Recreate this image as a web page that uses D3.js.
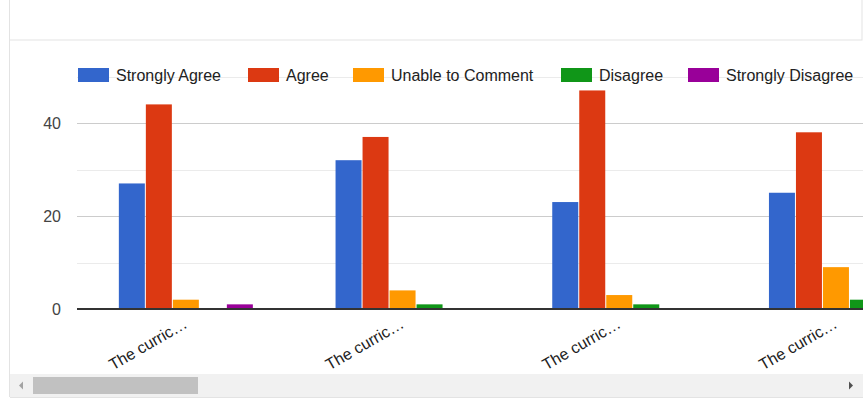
<!DOCTYPE html>
<html>
<head>
<meta charset="utf-8">
<script src="https://cdnjs.cloudflare.com/ajax/libs/d3/7.8.5/d3.min.js"></script>
<style>
  body { margin: 0; background: #fff; }
  svg { display: block; font-family: "Liberation Sans", Arial, sans-serif; }
</style>
</head>
<body>
<svg id="chart" width="863" height="400"></svg>
<script>
const categories = ["The curric…", "The curric…", "The curric…", "The curric…"];
const seriesNames = ["Strongly Agree", "Agree", "Unable to Comment", "Disagree", "Strongly Disagree"];
const seriesColors = ["#3366cc", "#dc3912", "#ff9900", "#109618", "#990099"];
const stronglyAgree = [27, 32, 23, 25];
const agree = [44, 37, 47, 38];
const unableToComment = [2, 4, 3, 9];
const disagree = [0, 1, 1, 2];
const stronglyDisagree = [1, 0, 0, 0];
const yTicks = [0, 20, 40];
const yGrid = [10, 20, 30, 40, 50];

const series = [stronglyAgree, agree, unableToComment, disagree, stronglyDisagree];

const svg = d3.select("#chart");
const margin = { left: 77, top: 76, bottom: 309 };
const step = 216.7;

// frame bits around the chart (page card + scroll area)
svg.append("rect").attr("x", 9.5).attr("y", -1).attr("width", 852.5).attr("height", 41)
  .attr("fill", "none").attr("stroke", "#e3e3e3");
svg.append("line").attr("x1", 9.5).attr("x2", 9.5).attr("y1", 40).attr("y2", 397)
  .attr("stroke", "#e3e3e3");

const x0 = d3.scaleBand()
  .domain(d3.range(categories.length))
  .range([margin.left + 1, margin.left + 1 + step * categories.length])
  .paddingInner(0.377)
  .paddingOuter(0.1885);

const x1 = d3.scaleBand()
  .domain(d3.range(seriesNames.length))
  .range([0, x0.bandwidth()]);

const y = d3.scaleLinear().domain([0, 40]).range([309, 123]);

// gridlines
svg.append("g").selectAll("line")
  .data(yGrid)
  .enter().append("line")
  .attr("x1", margin.left).attr("x2", 863)
  .attr("y1", d => Math.round(y(d)) + 0.5).attr("y2", d => Math.round(y(d)) + 0.5)
  .attr("stroke", d => d % 20 === 0 ? "#cccccc" : "#ebebeb");

// y axis labels
const yAxis = d3.axisLeft(y).tickValues(yTicks).tickSize(0).tickPadding(0);
const ya = svg.append("g").attr("transform", `translate(61,0)`).call(yAxis);
ya.select(".domain").remove();
ya.selectAll("text").attr("font-size", 16).attr("fill", "#444")
  .attr("font-family", "Liberation Sans, Arial, sans-serif").attr("dy", "0.36em");

// bars
const groups = svg.append("g").selectAll("g")
  .data(categories)
  .enter().append("g")
  .attr("transform", (d, i) => `translate(${x0(i)},0)`);

groups.selectAll("rect")
  .data((d, i) => series.map((s, j) => ({ j, v: s[i] })))
  .enter().append("rect")
  .filter(d => d.v > 0)
  .attr("x", d => x1(d.j))
  .attr("width", x1.bandwidth() - 1)
  .attr("y", d => y(d.v))
  .attr("height", d => y(0) - y(d.v))
  .attr("fill", d => seriesColors[d.j]);

// baseline
svg.append("line")
  .attr("x1", margin.left).attr("x2", 863)
  .attr("y1", y(0)).attr("y2", y(0))
  .attr("stroke", "#333").attr("stroke-width", 2);

// x labels, slanted
svg.append("g").selectAll("text")
  .data(categories)
  .enter().append("text")
  .attr("transform", (d, i) => `translate(${x0(i) + x0.bandwidth() / 2 + 2},327) rotate(-30)`)
  .attr("text-anchor", "end")
  .attr("font-size", 16)
  .attr("fill", "#222")
  .text(d => d);

// legend
const legendX = [78, 248, 353, 561, 688];
const legend = svg.append("g").selectAll("g")
  .data(seriesNames)
  .enter().append("g")
  .attr("transform", (d, i) => `translate(${legendX[i]},68)`);
legend.append("rect")
  .attr("width", 31).attr("height", 14)
  .attr("fill", (d, i) => seriesColors[i]);
legend.append("text")
  .attr("x", 38).attr("y", 13)
  .attr("font-size", 16).attr("fill", "#222")
  .text(d => d);

// horizontal scrollbar
const sb = svg.append("g");
sb.append("rect").attr("x", 10).attr("y", 374).attr("width", 853).attr("height", 23).attr("fill", "#f1f1f1");
sb.append("line").attr("x1", 10).attr("x2", 863).attr("y1", 397.5).attr("y2", 397.5).attr("stroke", "#e3e3e3");
sb.append("rect").attr("x", 33).attr("y", 377).attr("width", 165).attr("height", 17).attr("fill", "#c1c1c1");
sb.append("path").attr("d", "M19,385.5 L23,381.5 L23,389.5 Z").attr("fill", "#a3a3a3");
sb.append("path").attr("d", "M853,385.5 L849,381.5 L849,389.5 Z").attr("fill", "#505050");
</script>
</body>
</html>
